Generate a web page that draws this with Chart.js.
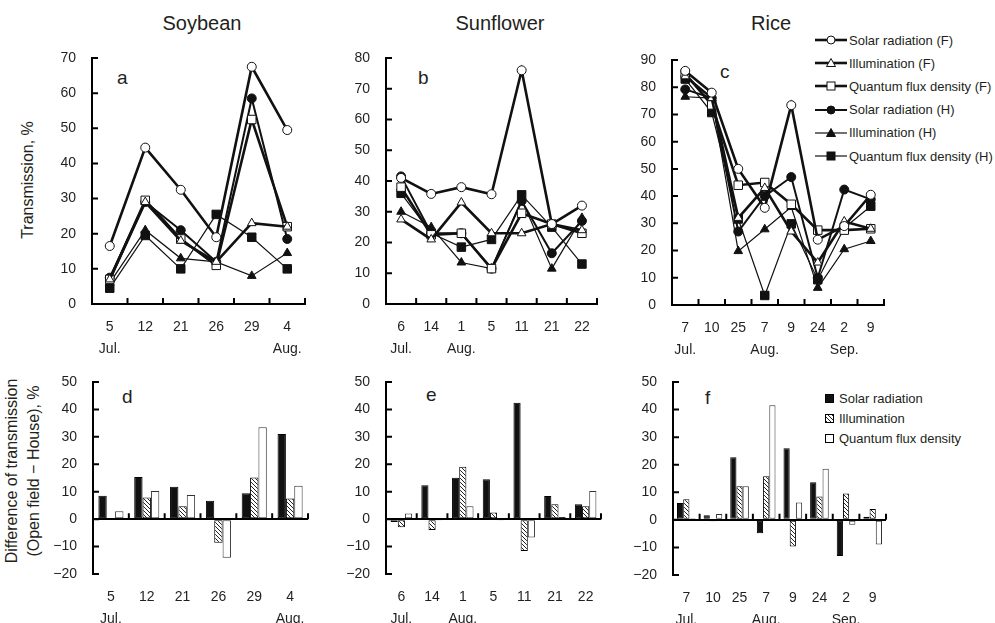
<!DOCTYPE html>
<html>
<head>
<meta charset="utf-8">
<script src="https://cdn.jsdelivr.net/npm/chart.js@4.4.0/dist/chart.umd.min.js"></script>
<style>
body{margin:0;background:#fff;width:995px;height:623px;overflow:hidden;position:relative;font-family:"Liberation Sans",Arial,sans-serif;color:#231f20}
.cv{position:absolute}
.t{position:absolute;white-space:nowrap;line-height:1}
.title{font-size:20px;transform:translate(-50%,-50%)}
.ylab{font-size:16px;transform:translate(-50%,-50%) rotate(-90deg);text-align:center;line-height:22px}
.letter{font-size:19px}
.leg{position:absolute;font-size:13px;white-space:nowrap;display:flex;align-items:center;height:16px}
.sw{display:inline-block;width:9px;height:9px;border:1px solid #000;box-sizing:border-box;margin-right:5px}
</style>
</head>
<body>
<div class="t title" style="left:202px;top:23px">Soybean</div>
<div class="t title" style="left:500px;top:23px">Sunflower</div>
<div class="t title" style="left:771px;top:23px">Rice</div>
<div class="t ylab" style="left:28px;top:180px">Transmission, %</div>
<div class="t ylab" style="left:23px;top:471px">Difference of transmission<br>(Open field − House), %</div>
<div class="t letter" style="left:117px;top:68px">a</div>
<div class="t letter" style="left:418px;top:68px">b</div>
<div class="t letter" style="left:720px;top:62px">c</div>
<div class="t letter" style="left:122px;top:387px">d</div>
<div class="t letter" style="left:426px;top:385px">e</div>
<div class="t letter" style="left:705px;top:388px">f</div>
<div id="legTop"></div>
<div id="legBot"></div>

<canvas id="a" class="cv"></canvas>
<canvas id="b" class="cv"></canvas>
<canvas id="c" class="cv"></canvas>
<canvas id="d" class="cv"></canvas>
<canvas id="e" class="cv"></canvas>
<canvas id="f" class="cv"></canvas>

<script>
// dates (day / month line)
const soyDays = ['5', '12', '21', '26', '29', '4'];
const soyMonths = ['Jul.', '', '', '', '', 'Aug.'];
const sunDays = ['6', '14', '1', '5', '11', '21', '22'];
const sunMonths = ['Jul.', '', 'Aug.', '', '', '', ''];
const riceDays = ['7', '10', '25', '7', '9', '24', '2', '9'];
const riceMonths = ['Jul.', '', '', 'Aug.', '', '', 'Sep.', ''];

// transmission, %  (F = open field, H = house)
const soySolarF = [16.5, 44.5, 32.5, 19, 67.5, 49.5];
const soyIllumF = [7, 29, 18, 12, 23, 22];
const soyQuantF = [7, 29.5, 18.5, 11, 52.5, 22];
const soySolarH = [7.5, 29, 21, 12, 58.5, 18.5];
const soyIllumH = [6, 21, 13, 12, 8, 14.5];
const soyQuantH = [4.5, 19.5, 10, 25.5, 19, 10];

const sunSolarF = [41, 35.8, 38, 35.7, 76, 26, 32];
const sunIllumF = [27.5, 21, 33, 23, 23, 26, 24];
const sunQuantF = [38, 22.5, 23, 11.5, 29.5, 26, 23];
const sunSolarH = [41.5, 23, 23, 11.5, 33.5, 16.5, 27];
const sunIllumH = [30, 25, 13.5, 11.5, 34, 11.5, 28];
const sunQuantH = [36, 23, 18.5, 21, 35.5, 25, 13];

const riceSolarF = [86, 78, 50, 35.7, 73.4, 24, 29, 40.5];
const riceIllumF = [84, 76, 32, 43, 27, 15.6, 30.7, 28];
const riceQuantF = [85, 73.5, 44, 45, 37, 27.5, 27.5, 28];
const riceSolarH = [79.2, 76, 27, 40, 47, 10, 42.4, 38.8];
const riceIllumH = [76.5, 76, 19.8, 27.8, 36, 6.3, 20.5, 23.5];
const riceQuantH = [83, 70.7, 31.6, 3.5, 29.8, 9.3, 28.3, 36.3];

// difference of transmission (open field - house), %
const soyDiffSolar = [8.5, 15.4, 11.8, 6.7, 9.4, 31];
const soyDiffIllum = [0, 7.9, 4.7, -8.6, 15.2, 7.5];
const soyDiffQuant = [2.9, 10.3, 8.8, -14.1, 33.5, 12.2];

const sunDiffSolar = [-1, 12.4, 15.1, 14.5, 42.4, 8.4, 5.4];
const sunDiffIllum = [-3, -4, 19.1, 2.4, -11.6, 5.4, 4.7];
const sunDiffQuant = [2.1, -0.5, 4.7, -0.5, -6.7, 0.8, 10.3];

const riceDiffSolar = [6.1, 1.7, 22.7, -4.9, 26, 13.6, -13.1, 1.1];
const riceDiffIllum = [7.5, -0.5, 12.2, 15.8, -9.7, 8.5, 9.6, 3.9];
const riceDiffQuant = [0.6, 2.1, 12.2, 41.6, 6.3, 18.5, -1.8, -8.9];

const seriesNames = ['Solar radiation (F)', 'Illumination (F)', 'Quantum flux density (F)',
  'Solar radiation (H)', 'Illumination (H)', 'Quantum flux density (H)'];
const barNames = ['Solar radiation', 'Illumination', 'Quantum flux density'];

const lineStyles = [
  {ps: 'circle', fill: '#fff', w: 2.6, r: 4.5},
  {ps: 'triangle', fill: '#fff', w: 2.6, r: 5},
  {ps: 'rect', fill: '#fff', w: 2.6, r: 6},
  {ps: 'circle', fill: '#111', w: 2, r: 4.5},
  {ps: 'triangle', fill: '#111', w: 1.2, r: 5},
  {ps: 'rect', fill: '#111', w: 1.2, r: 6}
];

Chart.defaults.font.family = "'Liberation Sans', Arial, sans-serif";
Chart.defaults.color = '#231f20';

const YW = 50, PT = 12, PR = 4;

// small tick marks pointing into the plot, like the original figure
const inwardTicks = {
  id: 'inwardTicks',
  afterDraw(chart, args, opts) {
    const ctx = chart.ctx, area = chart.chartArea;
    const x = chart.scales.x, y = chart.scales.y;
    const base = (opts && opts.zeroLine) ? y.getPixelForValue(0) : area.bottom;
    ctx.save();
    ctx.strokeStyle = '#000';
    ctx.lineWidth = 2;
    ctx.beginPath();
    y.ticks.forEach(t => {
      const py = y.getPixelForValue(t.value);
      ctx.moveTo(area.left, py);
      ctx.lineTo(area.left + 6, py);
    });
    for (let i = 0; i < x.ticks.length; i++) {
      const px = x.getPixelForValue(i + 0.5);
      ctx.moveTo(px, base);
      ctx.lineTo(px, base - 6);
    }
    ctx.stroke();
    ctx.restore();
  }
};

function place(id, g, xh) {
  const cv = document.getElementById(id);
  cv.width = g.right - g.left + YW + PR;
  cv.height = g.bottom - g.top + PT + xh;
  cv.style.left = (g.left - YW) + 'px';
  cv.style.top = (g.top - PT) + 'px';
  return cv;
}

function labels(days, months) {
  return days.map((d, i) => [d, months[i]]);
}

function baseOptions(yMin, yMax, xh, bars) {
  return {
    responsive: false,
    animation: false,
    layout: {padding: {top: PT, right: PR, left: 0, bottom: 0}},
    plugins: {legend: {display: false}, tooltip: {enabled: false}, inwardTicks: {zeroLine: bars}},
    scales: {
      x: {
        offset: true,
        grid: {display: false, drawTicks: false},
        border: {display: !bars, color: '#000', width: 2},
        ticks: {padding: 12, autoSkip: false, maxRotation: 0, font: {size: 14, lineHeight: 1.6}, color: '#231f20'},
        afterFit: s => { s.height = xh; s.paddingLeft = 0; s.paddingRight = 0; }
      },
      y: {
        min: yMin, max: yMax,
        grid: {
          drawTicks: false,
          drawOnChartArea: bars,
          lineWidth: 2,
          color: c => (bars && c.tick && c.tick.value === 0) ? '#000' : 'rgba(0,0,0,0)'
        },
        border: {display: true, color: '#000', width: 2},
        ticks: {stepSize: 10, padding: 16, font: {size: 14}, color: '#231f20',
          callback: v => String(v).replace('-', '−')},
        afterFit: s => { s.width = YW; s.paddingTop = 0; s.paddingBottom = 0; }
      }
    }
  };
}

function lineChart(id, g, days, months, series, yMax) {
  const cv = place(id, g, 60);
  new Chart(cv, {
    type: 'line',
    data: {
      labels: labels(days, months),
      datasets: series.map((vals, i) => ({
        label: seriesNames[i],
        data: vals,
        borderColor: '#111',
        borderWidth: lineStyles[i].w,
        tension: 0,
        pointStyle: lineStyles[i].ps,
        pointRadius: lineStyles[i].r,
        pointBackgroundColor: lineStyles[i].fill,
        pointBorderColor: '#111',
        pointBorderWidth: 1
      }))
    },
    options: baseOptions(0, yMax, 60, false),
    plugins: [inwardTicks]
  });
}

function hatch(ctx) {
  const p = document.createElement('canvas');
  p.width = 4; p.height = 4;
  const g = p.getContext('2d');
  g.fillStyle = '#fff';
  g.fillRect(0, 0, 4, 4);
  g.strokeStyle = '#222';
  g.lineWidth = 1;
  g.beginPath();
  g.moveTo(0, 0); g.lineTo(4, 4);
  g.moveTo(-1, 3); g.lineTo(1, 5);
  g.moveTo(3, -1); g.lineTo(5, 1);
  g.stroke();
  return ctx.createPattern(p, 'repeat');
}

function barChart(id, g, days, months, solar, illum, quant) {
  const cv = place(id, g, 49);
  const ctx = cv.getContext('2d');
  const fills = ['#111', hatch(ctx), '#fff'];
  new Chart(cv, {
    type: 'bar',
    data: {
      labels: labels(days, months),
      datasets: [solar, illum, quant].map((vals, i) => ({
        label: barNames[i],
        data: vals,
        backgroundColor: fills[i],
        borderColor: i === 2 ? '#333' : '#000',
        borderWidth: 1,
        borderSkipped: false,
        categoryPercentage: 0.7,
        barPercentage: 1
      }))
    },
    options: baseOptions(-20, 50, 49, true),
    plugins: [inwardTicks]
  });
}

lineChart('a', {left: 92, right: 308, top: 58, bottom: 304}, soyDays, soyMonths,
  [soySolarF, soyIllumF, soyQuantF, soySolarH, soyIllumH, soyQuantH], 70);
lineChart('b', {left: 386, right: 600, top: 58, bottom: 304}, sunDays, sunMonths,
  [sunSolarF, sunIllumF, sunQuantF, sunSolarH, sunIllumH, sunQuantH], 80);
lineChart('c', {left: 672, right: 887, top: 60, bottom: 305}, riceDays, riceMonths,
  [riceSolarF, riceIllumF, riceQuantF, riceSolarH, riceIllumH, riceQuantH], 90);

barChart('d', {left: 93, right: 308, top: 382, bottom: 574}, soyDays, soyMonths,
  soyDiffSolar, soyDiffIllum, soyDiffQuant);
barChart('e', {left: 386, right: 601, top: 382, bottom: 574}, sunDays, sunMonths,
  sunDiffSolar, sunDiffIllum, sunDiffQuant);
barChart('f', {left: 673, right: 886, top: 382, bottom: 575}, riceDays, riceMonths,
  riceDiffSolar, riceDiffIllum, riceDiffQuant);

// legends
function marker(st) {
  const fill = st.fill;
  let m = '';
  if (st.ps === 'circle') m = `<circle cx="16" cy="8" r="4" fill="${fill}" stroke="#111" stroke-width="1"/>`;
  if (st.ps === 'triangle') m = `<polygon points="16,3.5 20.5,11.5 11.5,11.5" fill="${fill}" stroke="#111" stroke-width="1"/>`;
  if (st.ps === 'rect') m = `<rect x="12" y="4" width="8" height="8" fill="${fill}" stroke="#111" stroke-width="1"/>`;
  return `<svg width="32" height="16" style="margin-right:2px"><line x1="0" y1="8" x2="32" y2="8" stroke="#111" stroke-width="${st.w}"/>${m}</svg>`;
}
const legTop = document.getElementById('legTop');
seriesNames.forEach((n, i) => {
  const d = document.createElement('div');
  d.className = 'leg';
  d.style.left = '815px';
  d.style.top = (32 + i * 23.2) + 'px';
  d.innerHTML = marker(lineStyles[i]) + n;
  legTop.appendChild(d);
});
const swatch = [
  'background:#111',
  'background:repeating-linear-gradient(45deg,#222 0 1px,#fff 1px 3px)',
  'background:#fff'
];
const legBot = document.getElementById('legBot');
barNames.forEach((n, i) => {
  const d = document.createElement('div');
  d.className = 'leg';
  d.style.left = '825px';
  d.style.top = (390 + i * 20.3) + 'px';
  d.innerHTML = `<span class="sw" style="${swatch[i]}"></span>` + n;
  legBot.appendChild(d);
});
</script>
</body>
</html>
